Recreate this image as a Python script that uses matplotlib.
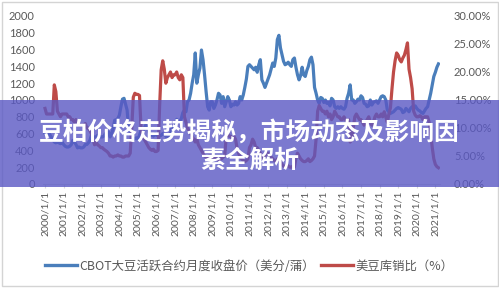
import matplotlib
matplotlib.use("Agg")
import matplotlib.pyplot as plt
from matplotlib.patches import Rectangle
from matplotlib.ticker import FuncFormatter
import numpy as np

plt.rcParams['font.family'] = ['Lato', 'Noto Sans CJK SC', 'DejaVu Sans']

# CBOT soybean active contract monthly close (US cents / bushel), Jan 2000 - Mar 2021
price = [
    600, 580, 620, 590, 560, 530, 500, 490, 510, 490, 480, 500,      # 2000
    470, 450, 440, 440, 450, 470, 520, 500, 470, 430, 440, 430,      # 2001
    430, 440, 470, 470, 490, 520, 580, 560, 560, 560, 580, 570,      # 2002
    560, 560, 570, 600, 620, 620, 560, 600, 660, 760, 760, 780,      # 2003
    820, 920, 1010, 1020, 950, 880, 650, 620, 560, 530, 540, 550,    # 2004
    530, 580, 640, 620, 660, 700, 680, 620, 580, 590, 570, 600,      # 2005
    580, 580, 570, 580, 600, 590, 570, 550, 540, 600, 680, 650,      # 2006
    700, 770, 750, 740, 780, 850, 880, 860, 980, 1000, 1080, 1200,   # 2007
    1300, 1560, 1200, 1300, 1380, 1595, 1480, 1300, 1100, 920, 880, 980,   # 2008
    980, 900, 940, 1000, 1080, 1060, 960, 1040, 920, 980, 1040, 1000,      # 2009
    920, 950, 940, 980, 940, 960, 1040, 1000, 1060, 1150, 1250, 1400,      # 2010
    1420, 1400, 1380, 1360, 1390, 1330, 1420, 1480, 1240, 1200, 1150, 1200,  # 2011
    1250, 1300, 1370, 1440, 1400, 1500, 1720, 1770, 1620, 1540, 1460, 1420,  # 2012
    1430, 1450, 1420, 1400, 1480, 1500, 1390, 1300, 1240, 1290, 1390, 1300,  # 2013
    1280, 1350, 1400, 1480, 1510, 1420, 1150, 1080, 1000, 960, 1030, 1020,   # 2014
    970, 1000, 960, 970, 930, 1020, 1000, 920, 900, 920, 900, 920,           # 2015
    900, 890, 920, 1020, 1080, 1180, 1000, 1000, 960, 980, 1010, 1000,       # 2016
    1050, 1030, 960, 950, 920, 930, 1000, 940, 970, 980, 990, 960,           # 2017
    1000, 1040, 1050, 1040, 1000, 880, 860, 840, 850, 860, 880, 900,         # 2018
    910, 900, 890, 850, 860, 900, 880, 860, 900, 920, 900, 930,              # 2019
    900, 880, 870, 850, 840, 870, 900, 920, 1000, 1080, 1180, 1280,          # 2020
    1330, 1390, 1430,                                                        # 2021
]

# US soybean stock-to-use ratio (%), same months
ratio = [
    13.5, 12.5, 12.5, 12.5, 12.5, 12.5, 17.7, 16.5, 13.0, 12.5, 12.0, 12.5,  # 2000
    12.5, 12.5, 12.5, 12.0, 12.0, 11.5, 11.5, 11.0, 11.5, 11.0, 10.5, 10.5,  # 2001
    10.5, 10.5, 10.8, 10.0, 10.0, 9.5, 9.0, 8.0, 7.0, 7.5, 7.0, 6.8,         # 2002
    6.5, 6.5, 6.2, 6.0, 5.8, 5.5, 5.0, 5.0, 4.8, 5.0, 5.0, 5.2,              # 2003
    5.0, 5.0, 4.8, 4.8, 5.0, 5.0, 5.0, 5.5, 10.0, 15.5, 16.2, 16.0,          # 2004
    16.0, 15.8, 10.0, 8.4, 8.0, 7.5, 7.0, 6.5, 6.2, 6.0, 6.2, 5.8,           # 2005
    5.8, 6.0, 14.0, 20.4, 22.0, 20.5, 18.0, 19.0, 19.5, 20.0, 19.0, 19.5,    # 2006
    19.5, 20.0, 19.0, 18.6, 19.5, 19.0, 12.0, 11.0, 10.0, 9.5, 9.0, 8.5,     # 2007
    8.0, 7.5, 8.0, 7.0, 6.5, 6.0, 5.5, 5.0, 4.8, 4.6, 5.0, 5.0,              # 2008
    4.8, 4.5, 4.6, 4.4, 4.3, 4.5, 4.5, 4.8, 5.0, 8.5, 9.0, 8.5,              # 2009
    8.5, 8.0, 8.5, 8.0, 6.4, 5.5, 4.8, 4.5, 4.2, 4.0, 4.2, 4.5,              # 2010
    6.5, 7.0, 8.0, 7.5, 6.5, 6.5, 6.0, 5.5, 5.0, 4.5, 5.0, 5.5,              # 2011
    5.5, 5.0, 4.8, 4.5, 4.2, 4.0, 4.5, 4.2, 4.0, 3.5, 3.2, 3.0,              # 2012
    3.5, 3.2, 3.0, 3.0, 3.2, 3.0, 4.6, 5.5, 5.0, 4.5, 4.2, 4.0,              # 2013
    4.0, 4.2, 4.5, 4.0, 4.2, 4.5, 5.0, 8.0, 13.0, 14.0, 13.5, 13.0,          # 2014
    13.0, 12.5, 13.0, 12.0, 12.5, 11.5, 12.0, 13.0, 12.5, 12.0, 12.0, 11.5,  # 2015
    11.5, 12.0, 11.5, 11.0, 11.5, 7.5, 7.8, 10.0, 12.0, 12.5, 12.0, 11.5,    # 2016
    11.5, 11.0, 10.5, 11.0, 11.5, 12.0, 11.0, 10.5, 11.0, 12.0, 12.5, 12.0,  # 2017
    12.0, 12.5, 12.0, 12.9, 12.0, 11.0, 12.5, 13.6, 17.0, 20.0, 22.0, 23.4,  # 2018
    23.0, 22.2, 21.8, 22.5, 23.0, 24.0, 25.2, 20.5, 19.0, 17.0, 13.0, 12.3,  # 2019
    12.0, 12.0, 12.2, 12.0, 11.5, 12.0, 12.0, 12.0, 11.0, 9.0, 6.5, 4.5,     # 2020
    3.5, 3.1, 2.9,                                                           # 2021
]

years = list(range(2000, 2022))
tick_labels = [f"{y}/1/1" for y in years]
legend_labels = ["CBOT大豆活跃合约月度收盘价（美分/蒲）", "美豆库销比（%）"]
title_lines = ["豆柏价格走势揭秘，市场动态及影响因", "素全解析"]

W, H = 499, 289
fig = plt.figure(figsize=(W / 100, H / 100), dpi=100)
fig.patch.set_facecolor('white')

ax = fig.add_axes([43 / W, 1 - 184 / H, (440 - 43) / W, (184 - 16) / H])
ax2 = ax.twinx()

blue = '#4A7EBB'
red = '#BE4B48'
months = np.arange(len(price))
l1, = ax.plot(months, price, color=blue, lw=2.3, zorder=3)
l2, = ax2.plot(months, np.array(ratio) / 100, color=red, lw=2.3, zorder=3)

ax.set_xlim(-1.3, 255)
ax.set_ylim(0, 2000)
ax2.set_ylim(0, 0.30)
ax.set_yticks(np.arange(0, 2001, 200))
ax2.set_yticks(np.arange(0, 0.301, 0.05))
ax2.yaxis.set_major_formatter(FuncFormatter(lambda v, p: f"{v*100:.2f}%"))

ticks_pos = [12 * i for i in range(len(years))]
ax.set_xticks(ticks_pos)
ax.set_xticklabels(tick_labels, rotation=90)

gray = '#595959'
for a in (ax, ax2):
    for s in ('top', 'left', 'right', 'bottom'):
        a.spines[s].set_visible(False)
    a.patch.set_alpha(0)
ax.spines['bottom'].set_visible(True)
ax.spines['bottom'].set_color('#d9d9d9')
ax.tick_params(axis='x', length=3, color='#d9d9d9', labelsize=7.5, labelcolor=gray, pad=2)
ax.tick_params(axis='y', length=0, labelsize=8, labelcolor=gray, pad=6)
ax2.tick_params(axis='y', length=0, labelsize=8, labelcolor=gray, pad=10)
ax2.tick_params(axis='x', length=0)

leg = fig.legend([l1, l2], legend_labels, loc='center', bbox_to_anchor=(0.5, 1 - 266 / H),
                 ncol=2, frameon=False, handlelength=2.6, handletextpad=0.2,
                 columnspacing=0.5, prop={'family': ['Noto Sans CJK SC'], 'size': 8.9})
for t in leg.get_texts():
    t.set_color(gray)
for h in leg.legend_handles:
    h.set_linewidth(2.4)

# outer frame
fig.patches.append(Rectangle((1.5 / W, 3 / H), 496 / W, 284 / H, transform=fig.transFigure,
                             fill=False, edgecolor='#d4d4d4', lw=1.0, zorder=1))

# translucent banner
fig.patches.append(Rectangle((0, 1 - 187 / H), 1, 87 / H, transform=fig.transFigure,
                             facecolor=(90 / 255, 88 / 255, 196 / 255), alpha=0.8,
                             edgecolor='none', zorder=10))
fig.text(0.5, 1 - 132 / H, title_lines[0], ha='center', va='center', color='white',
         fontsize=17.8, fontweight='heavy', family=['Noto Sans CJK SC'], zorder=11)
fig.text(0.5, 1 - 161 / H, title_lines[1], ha='center', va='center', color='white',
         fontsize=17.8, fontweight='heavy', family=['Noto Sans CJK SC'], zorder=11)

fig.savefig('out.png', dpi=100)
